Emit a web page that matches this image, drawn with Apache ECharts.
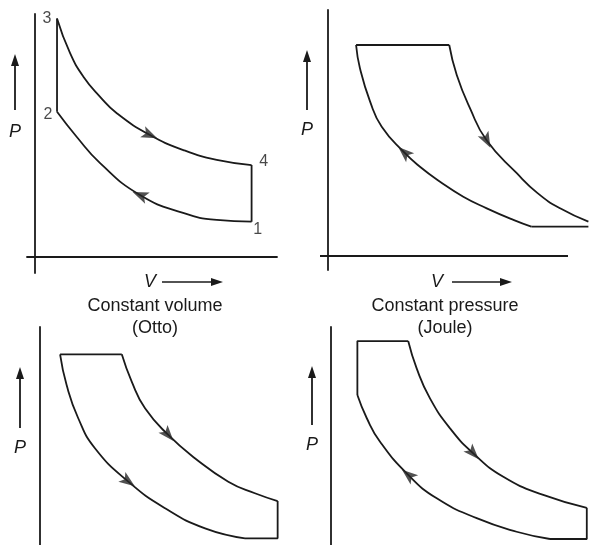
<!DOCTYPE html>
<html><head><meta charset="utf-8">
<script src="https://cdn.jsdelivr.net/npm/echarts@6/dist/echarts.min.js"></script>
<style>html,body{margin:0;padding:0;background:#fff}#c{width:589px;height:545px}</style>
</head><body><div id="c"></div>
<script>
// ---------- DATA (V, P in arbitrary units) ----------
// Panel 1: Constant volume (Otto)
const ottoStates = [[8.95, 1.46, '1'], [0.91, 6.00, '2'], [0.91, 9.86, '3'], [8.95, 3.80, '4']];
const ottoExpansion = [[0.91,9.86],[1.45,8.42],[2.00,7.45],[2.69,6.62],[3.38,5.94],[4.75,5.04],[6.13,4.42],[7.51,4.01],[8.95,3.80]];
const ottoCompression = [[0.91,6.00],[1.72,4.97],[2.69,3.88],[4.34,2.56],[6.12,1.82],[7.51,1.53],[8.95,1.46]];
const ottoHeatAdd = [[0.91,6.00],[0.91,9.86]];
const ottoHeatRej = [[8.95,3.80],[8.95,1.46]];
const ottoArrows = [[4.75,5.04,1],[4.34,2.56,-1]];   // V, P, direction of travel along V

// Panel 2: Constant pressure (Joule)
const jouleTop = [[1.16,8.72],[5.01,8.72]];
const jouleBottom = [[8.40,1.21],[10.76,1.21]];
const jouleExpansion = [[5.01,8.72],[5.32,7.48],[5.87,6.10],[6.56,4.77],[7.80,3.42],[8.66,2.60],[9.59,1.97],[10.76,1.42]];
const jouleCompression = [[1.16,8.72],[1.32,7.76],[1.74,6.38],[2.22,5.34],[3.15,4.28],[3.80,3.69],[4.63,3.07],[5.59,2.45],[6.56,1.97],[7.66,1.49],[8.40,1.21]];
const jouleArrows = [[6.56,4.77,1],[3.15,4.28,-1]];

// Panel 3: bottom left
const blTop = [[0.83,8.58],[3.38,8.58]];
const blRight = [[8.47,0.98],[9.82,0.98],[9.82,2.52]];
const blExpansion = [[3.38,8.58],[3.79,7.45],[4.34,6.35],[5.30,5.25],[6.40,4.29],[7.78,3.32],[8.88,2.84],[9.82,2.52]];
const blCompression = [[0.83,8.58],[1.10,7.31],[1.58,5.94],[2.27,4.70],[3.65,3.32],[5.17,2.22],[6.82,1.39],[8.47,0.98]];
const blArrows = [[5.30,5.25,1],[3.65,3.32,1]];

// Panel 4: bottom right
const brTop = [[3.19,9.13],[1.09,9.13],[1.09,6.90]];
const brRight = [[9.05,0.95],[10.57,0.95],[10.57,2.24]];
const brExpansion = [[3.19,9.13],[3.54,8.00],[4.09,6.76],[4.92,5.52],[5.88,4.49],[7.12,3.52],[8.77,2.77],[10.57,2.24]];
const brCompression = [[1.09,6.90],[1.48,5.94],[2.02,4.98],[3.19,3.60],[4.37,2.63],[6.02,1.81],[7.67,1.25],[9.05,0.95]];
const brArrows = [[5.88,4.49,1],[3.19,3.60,-1]];

const captions = [['Constant volume','(Otto)'], ['Constant pressure','(Joule)']];
const axisNames = ['P','V'];

// ---------- LAYOUT ----------
const S = 24.2; // px per unit, same on both axes
// ox/oy: origin; x0..x1, y0..y1: grid box; axisEnd: where the drawn V axis stops (if shorter than grid)
const panels = [
  {ox:35,  oy:257, x0:27,  x1:277, y0:14,  y1:273},
  {ox:328, oy:256, x0:320, x1:589, y0:10,  y1:270, axisEnd:568},
  {ox:40,  oy:562, x0:32,  x1:290, y0:327, y1:580},
  {ox:331, oy:562, x0:323, x1:589, y0:327, y1:580}
];
const INK = '#1a1a1a';
const LW = 1.8;
const grids = panels.map(p => ({left:p.x0, top:p.y0, width:p.x1-p.x0, height:p.y1-p.y0, outerBoundsMode:'none', containLabel:false}));
function axisBase(show){ return {type:'value', axisTick:{show:false}, axisLabel:{show:false}, splitLine:{show:false},
  axisLine:{show:show, onZero:true, lineStyle:{color:INK, width:LW}}}; }
const xAxes = panels.map((p,i) => Object.assign({gridIndex:i, min:(p.x0-p.ox)/S, max:(p.x1-p.ox)/S}, axisBase(!p.axisEnd)));
const yAxes = panels.map((p,i) => Object.assign({gridIndex:i, min:(p.oy-p.y1)/S, max:(p.oy-p.y0)/S}, axisBase(true)));

const series = [];
function line(i, data, smooth){
  series.push({type:'line', xAxisIndex:i, yAxisIndex:i, data:data, smooth:smooth ? 0.5 : false,
    symbol:'none', clip:false, silent:true, lineStyle:{color:INK, width:LW}});
}
const ARROW = 'path://M0,0 L5,13 L0,10 L-5,13 Z';
function arrows(i, list, curves){
  const data = list.map(a => {
    const [v, p, dir] = a;
    let best = null, bd = 1e9;
    curves.forEach(c => { for (let k=0;k<c.length-1;k++){
      const mv=(c[k][0]+c[k+1][0])/2, mp=(c[k][1]+c[k+1][1])/2;
      const d=(mv-v)*(mv-v)+(mp-p)*(mp-p); if(d<bd){bd=d;best=[c[k],c[k+1]];}
    }});
    const dv = (best[1][0]-best[0][0])*dir, dp = (best[1][1]-best[0][1])*dir;
    const ang = Math.atan2(dp, dv)*180/Math.PI;
    return {value:[v,p], symbolRotate: ang-90};
  });
  series.push({type:'scatter', xAxisIndex:i, yAxisIndex:i, data:data, symbol:ARROW, symbolSize:[12,16],
    itemStyle:{color:'#262626'}, silent:true, clip:false, z:5});
}
// panel 1
line(0, ottoExpansion, true); line(0, ottoCompression, true); line(0, ottoHeatAdd, false); line(0, ottoHeatRej, false);
arrows(0, ottoArrows, [ottoExpansion, ottoCompression]);
const stateLabelPos = {'1':[6,8], '2':[-9,3], '3':[-10,0], '4':[12,-3]};
series.push({type:'scatter', xAxisIndex:0, yAxisIndex:0, symbolSize:0, silent:true, clip:false,
  data: ottoStates.map(s => ({value:[s[0],s[1]], name:s[2]})),
  label:{show:true, formatter:'{b}', color:INK, fontFamily:'Liberation Sans, Arial, sans-serif', fontSize:16,
    position:'inside'},
  labelLayout: function(params){ const o = stateLabelPos[params.text] || [0,0];
    return {x: params.rect.x + params.rect.width/2 + o[0], y: params.rect.y + params.rect.height/2 + o[1], align:'center', verticalAlign:'middle'}; }
});
// panel 2
line(1, jouleTop, false); line(1, jouleBottom, false); line(1, jouleExpansion, true); line(1, jouleCompression, true);
arrows(1, jouleArrows, [jouleExpansion, jouleCompression]);
// panel 3
line(2, blTop, false); line(2, blRight, false); line(2, blExpansion, true); line(2, blCompression, true);
arrows(2, blArrows, [blExpansion, blCompression]);
// panel 4
line(3, brTop, false); line(3, brRight, false); line(3, brExpansion, true); line(3, brCompression, true);
arrows(3, brArrows, [brExpansion, brCompression]);

// ---------- annotations (axis symbols & captions) ----------
const FONT = 'Liberation Sans, Arial, Helvetica, sans-serif';
const graphic = [];
// short V axes drawn by hand where the curves run past the axis end
panels.forEach(p => { if (p.axisEnd) graphic.push({type:'line', shape:{x1:p.x0, y1:p.oy, x2:p.axisEnd, y2:p.oy}, style:{stroke:INK, lineWidth:LW}}); });
const pMarks = [ {x:15, top:54, bottom:110, ly:132}, {x:307, top:50, bottom:110, ly:130},
                 {x:20, top:367, bottom:428, ly:448}, {x:312, top:366, bottom:425, ly:445} ];
const vMarks = [ {tx:150, ty:282, x0:162, x1:223, cx:155, cy:[306,328]},
                 {tx:437, ty:282, x0:452, x1:512, cx:445, cy:[306,328]} ];
pMarks.forEach(m => {
  graphic.push({type:'line', shape:{x1:m.x, y1:m.bottom, x2:m.x, y2:m.top+8}, style:{stroke:INK, lineWidth:1.8}});
  graphic.push({type:'polygon', shape:{points:[[m.x,m.top],[m.x-4,m.top+12],[m.x+4,m.top+12]]}, style:{fill:INK}});
  graphic.push({type:'text', x:m.x, y:m.ly, style:{text:axisNames[0], font:'italic 18px '+FONT, fill:INK, align:'center', verticalAlign:'middle'}});
});
vMarks.forEach((m,i) => {
  graphic.push({type:'text', x:m.tx, y:m.ty, style:{text:axisNames[1], font:'italic 18px '+FONT, fill:INK, align:'center', verticalAlign:'middle'}});
  graphic.push({type:'line', shape:{x1:m.x0, y1:m.ty, x2:m.x1-8, y2:m.ty}, style:{stroke:INK, lineWidth:1.3}});
  graphic.push({type:'polygon', shape:{points:[[m.x1,m.ty],[m.x1-12,m.ty-4],[m.x1-12,m.ty+4]]}, style:{fill:INK}});
  captions[i].forEach((t,k) => graphic.push({type:'text', x:m.cx, y:m.cy[k],
    style:{text:t, font:'18px '+FONT, fill:INK, align:'center', verticalAlign:'middle'}}));
});

const chart = echarts.init(document.getElementById('c'), null, {renderer:'canvas'});
chart.setOption({backgroundColor:'#ffffff', animation:false, grid:grids, xAxis:xAxes, yAxis:yAxes, series:series, graphic:graphic});
</script></body></html>
